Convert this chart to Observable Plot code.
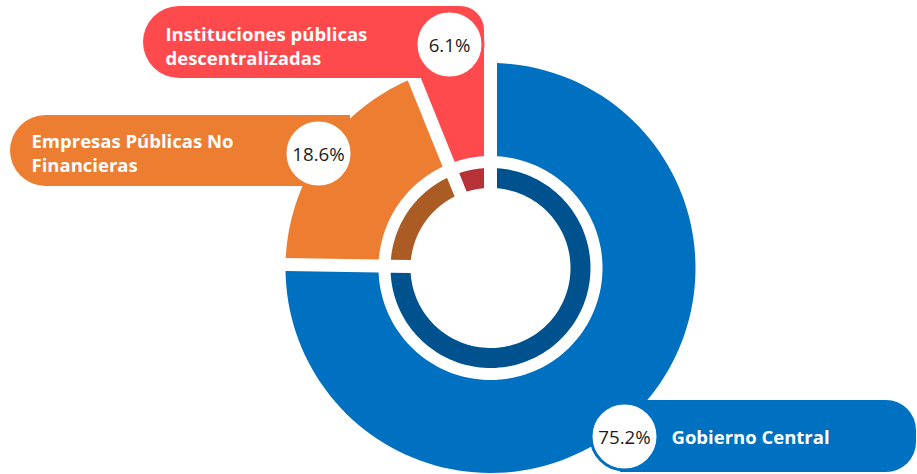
<!DOCTYPE html>
<html>
<head>
<meta charset="utf-8">
<script src="https://cdn.jsdelivr.net/npm/d3@7"></script>
<script src="https://cdn.jsdelivr.net/npm/@observablehq/plot@0.6"></script>
<style>
  html, body { margin: 0; padding: 0; background: #ffffff; }
  #chart { width: 917px; height: 474px; overflow: hidden; }
</style>
</head>
<body>
<div id="chart"></div>
<script>
// ---- data ----
const categories = ["Gobierno Central", "Empresas Públicas No Financieras", "Instituciones públicas descentralizadas"];
const labelLines = ["Gobierno Central", "Empresas Públicas No\nFinancieras", "Instituciones públicas\ndescentralizadas"];
const shares = [75.2, 18.6, 6.1];
const shareLabels = ["75.2%", "18.6%", "6.1%"];
const outerColors = ["#0070C0", "#ED7D31", "#FF4A4D"];
const innerColors = ["#00528F", "#AB5B24", "#B73237"];

// ---- layout ----
const W = 917, H = 474;
const cx = 490, cy = 267.5;
const outerR0 = 112, outerR1 = [205, 205, 226];
const innerR0 = 80, innerR1 = 100;
const halfGap = 6.5;

// label pill / bubble anchors (layout)
const bubbles = [{x: 624, y: 436}, {x: 318, y: 153}, {x: 449, y: 44}];
const textPos = [{x: 671, y: 436}, {x: 31, y: 152}, {x: 165, y: 45}];
const pillsRound = [
  {x1: 700, x2: 916, y1: 400, y2: 472, rx: 30, c: 0},
  {x1: 10, x2: 200, y1: 115, y2: 186, rx: 35.5, c: 1},
  {x1: 143, x2: 300, y1: 6, y2: 78, rx: 36, c: 2},
  {x1: 200, x2: 484, y1: 6, y2: 78, rx: 24, c: 2}
];
const pillsSquare = [
  {x1: 620, x2: 760, y1: 400, y2: 472, c: 0},
  {x1: 100, x2: 350, y1: 115, y2: 186, c: 1}
];

const total = d3.sum(shares);
const ends = d3.cumsum(shares).map(v => v / total * 2 * Math.PI);
const starts = [0, ...ends.slice(0, -1)];

function wedge(a0, a1, r0, r1, id) {
  const pts = [];
  const n = 120;
  const d1 = Math.asin(halfGap / r1), d0 = Math.asin(halfGap / r0);
  for (let i = 0; i <= n; i++) {
    const a = (a0 + d1) + (a1 - a0 - 2 * d1) * i / n;
    pts.push({id, x: cx + r1 * Math.sin(a), y: cy - r1 * Math.cos(a)});
  }
  for (let i = 0; i <= n; i++) {
    const a = (a1 - d0) - (a1 - a0 - 2 * d0) * i / n;
    pts.push({id, x: cx + r0 * Math.sin(a), y: cy - r0 * Math.cos(a)});
  }
  return pts;
}

const marks = [];
// pills
pillsRound.forEach(p => marks.push(Plot.rect([p], {x1: "x1", x2: "x2", y1: "y1", y2: "y2", rx: p.rx, fill: outerColors[p.c]})));
pillsSquare.forEach(p => marks.push(Plot.rect([p], {x1: "x1", x2: "x2", y1: "y1", y2: "y2", fill: outerColors[p.c]})));
// outer wedges
shares.forEach((s, i) => {
  marks.push(Plot.line(wedge(starts[i], ends[i], outerR0, outerR1[i], i), {x: "x", y: "y", fill: outerColors[i], stroke: "none", curve: "linear-closed"}));
});
// inner ring
shares.forEach((s, i) => {
  marks.push(Plot.line(wedge(starts[i], ends[i], innerR0, innerR1, i), {x: "x", y: "y", fill: innerColors[i], stroke: "none", curve: "linear-closed"}));
});
// bubbles
const bubbleData = shares.map((s, i) => ({x: bubbles[i].x, y: bubbles[i].y, label: shareLabels[i], color: outerColors[i]}));
marks.push(Plot.dot(bubbleData, {x: "x", y: "y", r: 33.5, fill: "white", stroke: "color", strokeWidth: 3}));
marks.push(Plot.text(bubbleData, {x: "x", y: d => d.y + 2, text: "label", fill: "#1c1c1c", fontSize: 18.7, fontFamily: "Open Sans", fontWeight: 400}));
// category labels
const labelData = categories.map((c, i) => ({x: textPos[i].x, y: textPos[i].y, label: labelLines[i]}));
marks.push(Plot.text(labelData, {x: "x", y: "y", text: "label", fill: "white", fontSize: 18.5, fontFamily: "Open Sans", fontWeight: 700, textAnchor: "start", lineHeight: 1.3}));

const chart = Plot.plot({
  width: W, height: H,
  margin: 0,
  x: {domain: [0, W], range: [0, W], axis: null},
  y: {domain: [0, H], range: [0, H], axis: null},
  style: {background: "white", fontFamily: "Open Sans"},
  marks
});
document.getElementById("chart").appendChild(chart);
</script>
</body>
</html>
